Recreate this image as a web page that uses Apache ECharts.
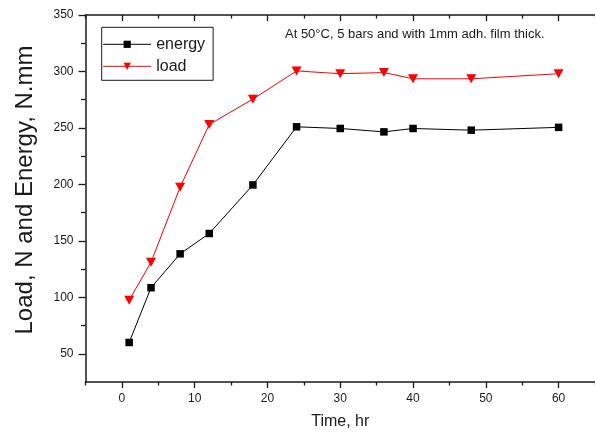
<!DOCTYPE html>
<html>
<head>
<meta charset="utf-8">
<script src="https://cdn.jsdelivr.net/npm/echarts@6/dist/echarts.min.js"></script>
<style>
html,body{margin:0;padding:0;background:#fff;}
#chart{width:595px;height:436px;}
</style>
</head>
<body>
<div id="chart"></div>
<script>
// Data
const timeHr = [1, 4, 8, 12, 18, 24, 30, 36, 40, 48, 60];
const energyValues = [60, 108.5, 138.5, 156.5, 199.5, 251, 249.5, 246.5, 249.5, 248, 250.5];
const loadValues = [97.5, 131, 197.5, 253, 275.5, 300.5, 298, 299, 293.5, 293.5, 298];
const xMajorTicks = [0, 10, 20, 30, 40, 50, 60];
const xMinorTicks = [-5, 5, 15, 25, 35, 45, 55, 65];
const yMajorTicks = [50, 100, 150, 200, 250, 300, 350];
const yMinorTicks = [75, 125, 175, 225, 275, 325];
const seriesNames = ['energy', 'load'];
const yTitle = 'Load, N and Energy, N.mm';
const xTitle = 'Time, hr';
const note = 'At 50°C, 5 bars and with 1mm adh. film thick.';

const FONT = '"Liberation Sans", Arial, sans-serif';
const INK = '#1a1a1a';

const chart = echarts.init(document.getElementById('chart'), null, {renderer: 'canvas'});

function pairs(xs, ys) { return xs.map((x, i) => [x, ys[i]]); }

const baseX = {type: 'value', min: -5, max: 65, gridIndex: 0, splitLine: {show: false}};
const baseY = {type: 'value', min: 25, max: 350, gridIndex: 0, splitLine: {show: false}};

chart.setOption({
  animation: false,
  backgroundColor: '#fff',
  textStyle: {fontFamily: FONT},
  grid: {left: 85.5, right: -10.9, top: 15, bottom: 54, containLabel: false},
  xAxis: [
    Object.assign({}, baseX, {
      position: 'bottom',
      name: xTitle, nameLocation: 'middle', nameGap: 32,
      nameTextStyle: {fontFamily: FONT, fontSize: 16, color: INK},
      axisLine: {show: true, onZero: false, lineStyle: {color: INK, width: 1.5}},
      axisTick: {show: true, inside: false, length: 6, customValues: xMajorTicks, lineStyle: {color: INK, width: 1.3}},
      axisLabel: {show: true, customValues: xMajorTicks, margin: 11, fontFamily: FONT, fontSize: 12, color: INK}
    }),
    Object.assign({}, baseX, {
      position: 'bottom',
      axisLine: {show: false, onZero: false},
      axisTick: {show: true, inside: false, length: 3.5, customValues: xMinorTicks, lineStyle: {color: INK, width: 1.3}},
      axisLabel: {show: false}
    }),
    Object.assign({}, baseX, {
      position: 'top',
      axisLine: {show: true, onZero: false, lineStyle: {color: INK, width: 1.5}},
      axisTick: {show: true, inside: true, length: 6, customValues: xMajorTicks, lineStyle: {color: INK, width: 1.3}},
      axisLabel: {show: false}
    }),
    Object.assign({}, baseX, {
      position: 'top',
      axisLine: {show: false, onZero: false},
      axisTick: {show: true, inside: true, length: 3.5, customValues: xMinorTicks, lineStyle: {color: INK, width: 1.3}},
      axisLabel: {show: false}
    })
  ],
  yAxis: [
    Object.assign({}, baseY, {
      position: 'left',
      axisLine: {show: true, onZero: false, lineStyle: {color: INK, width: 1.5}},
      axisTick: {show: true, inside: false, length: 7, customValues: yMajorTicks, lineStyle: {color: INK, width: 1.3}},
      axisLabel: {show: true, customValues: yMajorTicks, margin: 12, fontFamily: FONT, fontSize: 12, color: INK}
    }),
    Object.assign({}, baseY, {
      position: 'left',
      axisLine: {show: false, onZero: false},
      axisTick: {show: true, inside: false, length: 4.5, customValues: yMinorTicks, lineStyle: {color: INK, width: 1.3}},
      axisLabel: {show: false}
    })
  ],
  legend: {
    show: true,
    orient: 'vertical',
    left: 101.7, top: 27.3,
    padding: [7, 8, 4, 1],
    itemGap: 2,
    itemWidth: 48,
    itemHeight: 9,
    borderColor: INK,
    borderWidth: 1,
    backgroundColor: '#fff',
    lineStyle: {width: 1},
    textStyle: {fontFamily: FONT, fontSize: 16, color: INK, lineHeight: 20},
    data: seriesNames
  },
  graphic: [
    {
      type: 'text',
      left: 285, top: 28,
      style: {text: note, font: '13px ' + FONT, fill: INK}
    },
    {
      type: 'text',
      x: 25, y: 190,
      rotation: Math.PI / 2,
      style: {text: yTitle, font: '24px ' + FONT, fill: INK, align: 'center', verticalAlign: 'middle'}
    }
  ],
  series: [
    {
      name: seriesNames[0],
      type: 'line',
      xAxisIndex: 0, yAxisIndex: 0,
      data: pairs(timeHr, energyValues),
      symbol: 'rect',
      symbolSize: 7.5,
      color: '#000',
      lineStyle: {color: '#000', width: 1},
      itemStyle: {color: '#000'},
      z: 3
    },
    {
      name: seriesNames[1],
      type: 'line',
      xAxisIndex: 0, yAxisIndex: 0,
      data: pairs(timeHr, loadValues),
      symbol: 'triangle',
      symbolRotate: 180,
      symbolSize: [10, 9],
      color: '#ff0000',
      lineStyle: {color: '#ff0000', width: 1},
      itemStyle: {color: '#ff0000'},
      z: 3
    }
  ]
});
</script>
</body>
</html>
